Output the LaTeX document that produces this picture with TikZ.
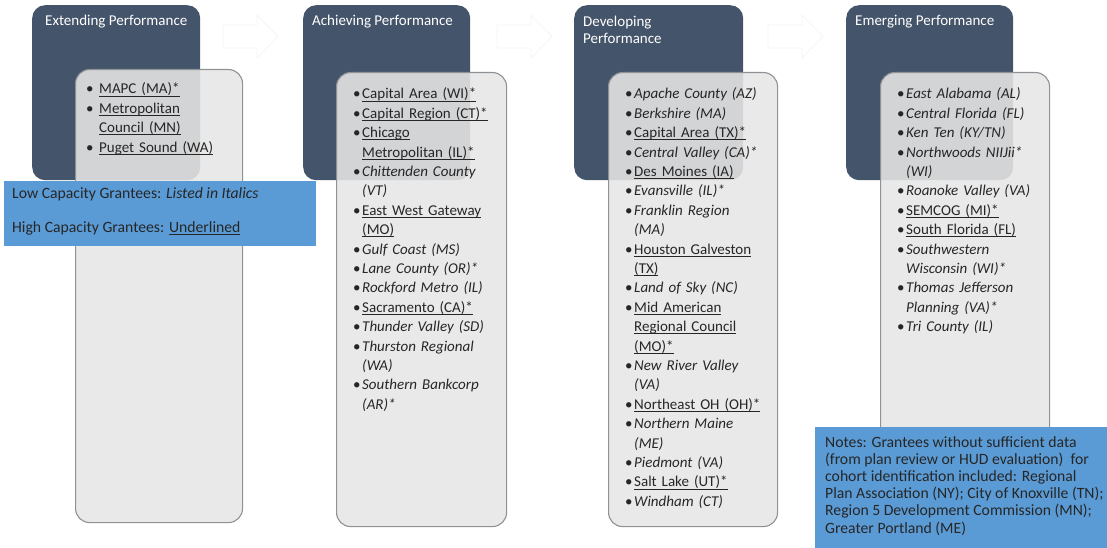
\documentclass[tikz,border=0pt]{standalone}
\usepackage{fontspec}
\setmainfont{Carlito}
\definecolor{slate}{HTML}{44546A}
\definecolor{panel}{HTML}{E6E6E6}
\definecolor{rim}{HTML}{8E9196}
\definecolor{band}{HTML}{5B9BD5}
\newlength{\bulgap}
\newsavebox{\hibox}
\newcommand{\hi}[1]{\sbox{\hibox}{#1}\rlap{\rule[-2.4pt]{\wd\hibox}{0.8pt}}\usebox{\hibox}}
\newcommand{\lo}[1]{\textit{#1}}
\newcommand{\grant}[1]{\hangindent=\bulgap\hangafter=1\noindent\makebox[\bulgap][l]{\textbullet}#1\par}
\begin{document}
\begin{tikzpicture}[x=1pt,y=-1pt]
\tikzset{tier/.style={rectangle,rounded corners=13pt,fill=slate,anchor=north west,inner sep=0pt}}
\tikzset{panelbox/.style={rectangle,rounded corners=14pt,fill=panel,fill opacity=0.88,draw=rim,line width=1.1pt,anchor=north west,inner sep=0pt}}
\tikzset{title/.style={anchor=base west,inner sep=0pt,text=white,align=left,font=\fontsize{15}{17.5}\selectfont}}
\tikzset{grants/.style={anchor=base west,inner sep=0pt,text width=170pt,align=left,text=black!85,font=\fontsize{15}{19.4}\selectfont}}
\tikzset{note/.style={rectangle,fill=band,anchor=north west,inner sep=0pt}}
\tikzset{notetext/.style={anchor=base west,inner sep=0pt,align=left,text=black!85,font=\fontsize{15.7}{17.2}\selectfont}}
\tikzset{pale/.style={draw=black!4,fill=white,line width=0.8pt}}
\useasboundingbox (0,0) rectangle (1107,548);

  % performance tiers
  \node[tier,minimum width=168pt,minimum height=175pt] (ext) at (32,5) {};
  \node[tier,minimum width=167pt,minimum height=175pt] (ach) at (303,5) {};
  \node[tier,minimum width=169pt,minimum height=175pt] (dev) at (574,5) {};
  \node[tier,minimum width=167pt,minimum height=175pt] (emg) at (846,5) {};

  \node[title] (exttitle) at (45,26) {Extending Performance};
  \node[title] (achtitle) at (312,26) {Achieving Performance};
  \node[title] (devtitle) at (583,44) {Developing\\Performance};
  \node[title] (emgtitle) at (855,26) {Emerging Performance};

  \foreach \ax in {223,497,768}
    \draw[pale] (\ax,25) -- ++(34,0) -- ++(0,-10) -- ++(21,21.5) -- ++(-21,21.5) -- ++(0,-10) -- ++(-34,0) -- cycle;

  % grantee lists
  \node[panelbox,minimum width=167pt,minimum height=453pt] (extbox) at (75,69) {};
  \node[panelbox,minimum width=170pt,minimum height=454pt] (achbox) at (336,72) {};
  \node[panelbox,minimum width=169pt,minimum height=454pt] (devbox) at (608,72) {};
  \node[panelbox,minimum width=169pt,minimum height=454pt] (emgbox) at (880,72) {};

  \node[grants] (extlist) at (86,94) {\setlength{\bulgap}{13pt}%
    \grant{\hi{MAPC (MA)*}}
    \grant{\hi{Metropolitan}\newline\hi{Council (MN)}}
    \grant{\hi{Puget Sound (WA)}}};
  \node[grants] (achlist) at (353,99) {\setlength{\bulgap}{9pt}%
    \grant{\hi{Capital Area (WI)*}}
    \grant{\hi{Capital Region (CT)*}}
    \grant{\hi{Chicago}\newline\hi{Metropolitan (IL)*}}
    \grant{\lo{Chittenden County}\newline\lo{(VT)}}
    \grant{\hi{East West Gateway}\newline\hi{(MO)}}
    \grant{\lo{Gulf Coast (MS)}}
    \grant{\lo{Lane County (OR)*}}
    \grant{\lo{Rockford Metro (IL)}}
    \grant{\hi{Sacramento (CA)*}}
    \grant{\lo{Thunder Valley (SD)}}
    \grant{\lo{Thurston Regional}\newline\lo{(WA)}}
    \grant{\lo{Southern Bankcorp}\newline\lo{(AR)*}}};
  \node[grants] (devlist) at (625,99) {\setlength{\bulgap}{9pt}%
    \grant{\lo{Apache County (AZ)}}
    \grant{\lo{Berkshire (MA)}}
    \grant{\hi{Capital Area (TX)*}}
    \grant{\lo{Central Valley (CA)*}}
    \grant{\hi{Des Moines (IA)}}
    \grant{\lo{Evansville (IL)*}}
    \grant{\lo{Franklin Region}\newline\lo{(MA)}}
    \grant{\hi{Houston Galveston}\newline\hi{(TX)}}
    \grant{\lo{Land of Sky (NC)}}
    \grant{\hi{Mid American}\newline\hi{Regional Council}\newline\hi{(MO)*}}
    \grant{\lo{New River Valley}\newline\lo{(VA)}}
    \grant{\hi{Northeast OH (OH)*}}
    \grant{\lo{Northern Maine}\newline\lo{(ME)}}
    \grant{\lo{Piedmont (VA)}}
    \grant{\hi{Salt Lake (UT)*}}
    \grant{\lo{Windham (CT)}}};
  \node[grants] (emglist) at (897,99) {\setlength{\bulgap}{9pt}%
    \grant{\lo{East Alabama (AL)}}
    \grant{\lo{Central Florida (FL)}}
    \grant{\lo{Ken Ten (KY/TN)}}
    \grant{\lo{Northwoods NIIJii*}\newline\lo{(WI)}}
    \grant{\lo{Roanoke Valley (VA)}}
    \grant{\hi{SEMCOG (MI)*}}
    \grant{\hi{South Florida (FL)}}
    \grant{\lo{Southwestern}\newline\lo{Wisconsin (WI)*}}
    \grant{\lo{Thomas Jefferson}\newline\lo{Planning (VA)*}}
    \grant{\lo{Tri County (IL)}}};

  % legend and notes
  \node[note,minimum width=312pt,minimum height=65pt] (key) at (4,181) {};
  \node[notetext] (keylo) at (12,198) {Low Capacity Grantees: \textit{Listed in Italics}};
  \node[notetext] (keyhi) at (12,232) {High Capacity Grantees: \hi{Underlined}};

  \node[note,minimum width=292pt,minimum height=121pt] (notes) at (815,427) {};
  \node[notetext] (notestext) at (825,533) {Notes: Grantees without sufficient data\\
    (from plan review or HUD evaluation)\ \ for\\
    cohort identification included: Regional\\
    Plan Association (NY); City of Knoxville (TN);\\
    Region 5 Development Commission (MN);\\
    Greater Portland (ME)};

\end{tikzpicture}
\end{document}
